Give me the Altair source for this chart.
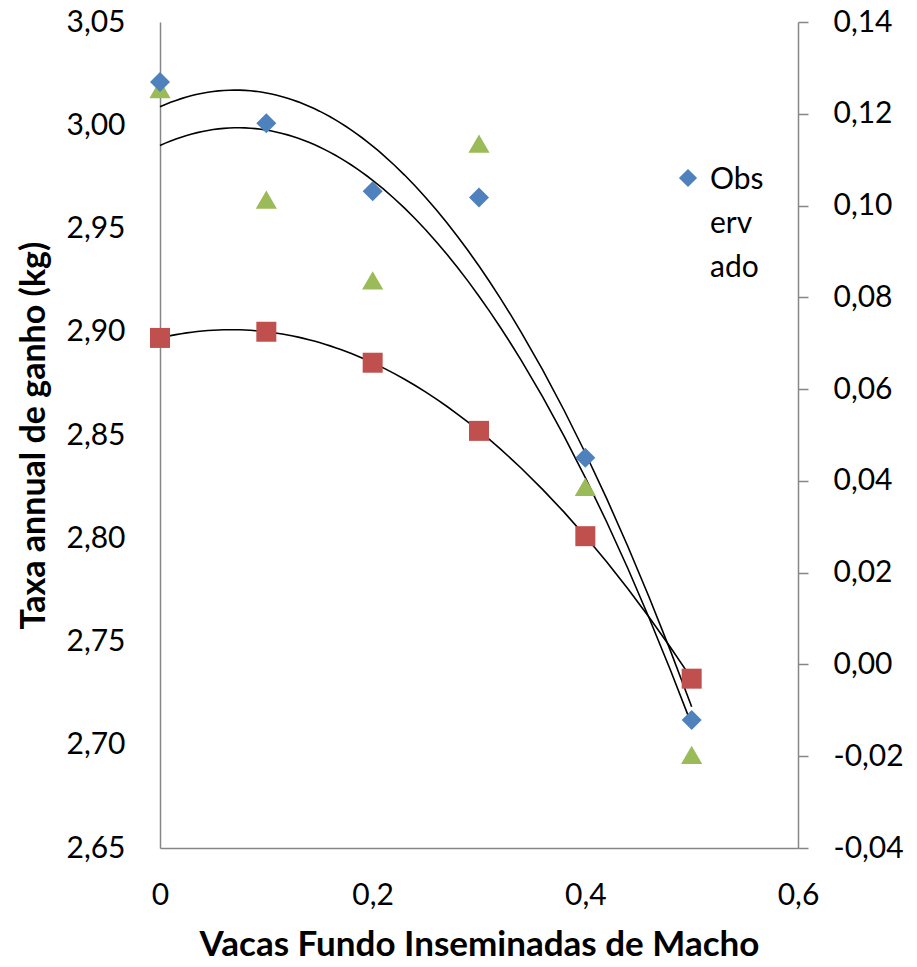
import altair as alt
import pandas as pd

# ---- data ----
x_vals = [0, 0.1, 0.2, 0.3, 0.4, 0.5]
observado = [3.021, 3.001, 2.968, 2.965, 2.839, 2.712]          # blue diamonds, left axis
serie_vermelha = [2.897, 2.900, 2.885, 2.852, 2.801, 2.732]     # red squares, left axis
serie_verde = [0.1254, 0.1013, 0.0837, 0.1135, 0.0387, -0.0197]  # green triangles, right axis

left_ticks = [2.65, 2.70, 2.75, 2.80, 2.85, 2.90, 2.95, 3.00, 3.05]
right_ticks = [-0.04, -0.02, 0.0, 0.02, 0.04, 0.06, 0.08, 0.10, 0.12, 0.14]
x_ticks = [0, 0.2, 0.4, 0.6]
legend_label = ["Obs", "erv", "ado"]

df_blue = pd.DataFrame({"x": x_vals, "y": observado})
df_red = pd.DataFrame({"x": x_vals, "y": serie_vermelha})
df_green = pd.DataFrame({"x": x_vals, "y": serie_verde})

FONT = "Lato"
AXIS_GRAY = "#868686"
BLUE, RED, GREEN = "#4F81BD", "#C0504D", "#9BBB59"

x_enc = alt.X(
    "x:Q",
    scale=alt.Scale(domain=[0, 0.6], nice=False, zero=False),
    axis=alt.Axis(
        values=x_ticks,
        labelExpr="replace(format(datum.value, '.1~f'), '.', ',')",
        labelFlush=False,
        title="Vacas Fundo Inseminadas de Macho",
        titleFont=FONT, titleFontSize=35, titleFontWeight="bold", titleColor="black",
        titlePadding=17,
        labelFont=FONT, labelFontSize=30, labelColor="black", labelPadding=32,
        ticks=False, tickSize=0, grid=False,
        domainColor=AXIS_GRAY, domainWidth=1.5,
    ),
)

left_scale = alt.Scale(domain=[2.65, 3.05], nice=False, zero=False)
left_axis = alt.Axis(
    values=left_ticks,
    labelExpr="replace(format(datum.value, '.2f'), '.', ',')",
    title="Taxa annual de ganho (kg)",
    titleFont=FONT, titleFontSize=34, titleFontWeight="bold", titleColor="black",
    titlePadding=14,
    labelFont=FONT, labelFontSize=30, labelColor="black", labelPadding=35,
    ticks=False, tickSize=0, grid=False,
    domainColor=AXIS_GRAY, domainWidth=1.5,
)
right_scale = alt.Scale(domain=[-0.04, 0.14], nice=False, zero=False)
right_axis = alt.Axis(
    orient="right",
    values=right_ticks,
    labelExpr="replace(replace(format(datum.value, '.2f'), '.', ','), '\u2212', '-')",
    title=None,
    labelFont=FONT, labelFontSize=30, labelColor="black", labelPadding=25,
    ticks=True, tickSize=10, tickColor=AXIS_GRAY, tickWidth=1.5, grid=False,
    domainColor=AXIS_GRAY, domainWidth=1.5,
)

blue_pts = alt.Chart(df_blue).mark_point(
    shape="diamond", filled=True, size=400, color=BLUE, opacity=1
).encode(x=x_enc, y=alt.Y("y:Q", scale=left_scale, axis=left_axis))
blue_fit = alt.Chart(df_blue).transform_regression(
    "x", "y", method="poly", order=2
).mark_line(color="black", strokeWidth=1.6).encode(
    x="x:Q", y=alt.Y("y:Q", scale=left_scale, axis=left_axis)
)
red_pts = alt.Chart(df_red).mark_point(
    shape="square", filled=True, size=400, color=RED, opacity=1
).encode(x="x:Q", y=alt.Y("y:Q", scale=left_scale, axis=left_axis))
red_fit = alt.Chart(df_red).transform_regression(
    "x", "y", method="poly", order=2
).mark_line(color="black", strokeWidth=1.6).encode(
    x="x:Q", y=alt.Y("y:Q", scale=left_scale, axis=left_axis)
)

# manual legend for the "Observado" series (as in the reference, wrapped in 3 lines)
legend_sym = alt.Chart(pd.DataFrame({"serie": ["Observado"]})).mark_point(
    shape="diamond", filled=True, size=330, color=BLUE, opacity=1
).encode(x=alt.value(528), y=alt.value(156))
legend_txt = alt.Chart(pd.DataFrame({"serie": ["Observado"]})).mark_text(
    text=legend_label, align="left", baseline="middle", lineHeight=44,
    font=FONT, fontSize=30, color="black"
).encode(x=alt.value(550), y=alt.value(158))

left_layer = alt.layer(blue_fit, red_fit, red_pts, blue_pts, legend_sym, legend_txt)

green_pts = alt.Chart(df_green).mark_point(
    shape="triangle-up", filled=True, size=450, color=GREEN, opacity=1
).encode(x="x:Q", y=alt.Y("y:Q", scale=right_scale, axis=right_axis))
green_fit = alt.Chart(df_green).transform_regression(
    "x", "y", method="poly", order=2
).mark_line(color="black", strokeWidth=1.6).encode(
    x="x:Q", y=alt.Y("y:Q", scale=right_scale, axis=right_axis)
)
right_layer = alt.layer(green_fit, green_pts)

chart = alt.layer(right_layer, left_layer).resolve_scale(y="independent").properties(
    width=638,
    height=826,
    autosize=alt.AutoSizeParams(type="none"),
    padding={"left": 160, "top": 22, "right": 119, "bottom": 119},
    background="white",
).configure_view(stroke=None)

chart.save("out.html", embed_options={"renderer": "svg", "actions": False})
